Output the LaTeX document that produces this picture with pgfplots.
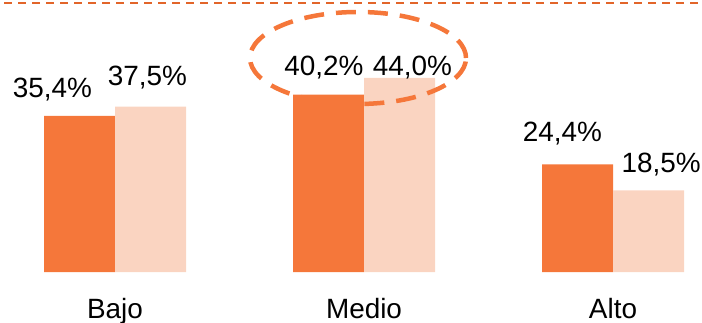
\documentclass[border=0pt]{standalone}
\usepackage{pgfplots}
\pgfplotsset{compat=1.18}
\usepackage{fontspec}
\setmainfont{Liberation Sans}
\definecolor{darkor}{HTML}{F5773A}
\definecolor{lightor}{HTML}{FAD4C1}
\definecolor{lineor}{HTML}{E2652A}
\begin{document}
\begin{tikzpicture}[x=1bp,y=1bp]
\begin{axis}[
  at={(0bp,51bp)}, anchor=south west,
  scale only axis, width=702bp, height=272bp,
  xmin=-0.46185, xmax=2.35743, ymin=0, ymax=61.678,
  axis lines=none, clip=false,
  ybar, bar width=71bp,
  xtick={0,1,2}, xticklabels={Bajo,Medio,Alto},
  font=\fontsize{28}{32}\selectfont,
]
\addplot[draw=none, fill=darkor, bar shift=-35.5bp] coordinates {(0,35.4) (1,40.2) (2,24.4)};
\addplot[draw=none, fill=lightor, bar shift=35.5bp] coordinates {(0,37.5) (1,44.0) (2,18.5)};
\foreach \x/\l in {0/Bajo,1/Medio,2/Alto}{
  \edef\tmp{\noexpand\node[anchor=base, inner sep=0pt, font=\noexpand\fontsize{28}{32}\noexpand\selectfont] at (axis cs:\x,0) [yshift=-46bp] {\l};}
  \tmp
}
\begin{scope}[every node/.style={anchor=base, inner sep=0pt, font=\fontsize{28}{32}\selectfont}]
\node at (axis cs:-0.251,39.46) {35,4\%};
\node at (axis cs:0.1305,42.18) {37,5\%};
\node at (axis cs:0.839,44.67) {40,2\%};
\node at (axis cs:1.1948,44.67) {44,0\%};
\node at (axis cs:1.797,29.48) {24,4\%};
\node at (axis cs:2.193,22.45) {18,5\%};
\end{scope}
\draw[darkor, line width=4.5bp, dash pattern=on 20bp off 12bp] (axis cs:0.976,48.53) ellipse [x radius=108bp, y radius=46bp];
\end{axis}
\draw[lineor, line width=2.2bp, dash pattern=on 8bp off 6bp] (4bp,320bp) -- (702bp,320bp);
\pgfresetboundingbox
\path[use as bounding box] (0,0) rectangle (702bp,323bp);
\end{tikzpicture}
\end{document}
